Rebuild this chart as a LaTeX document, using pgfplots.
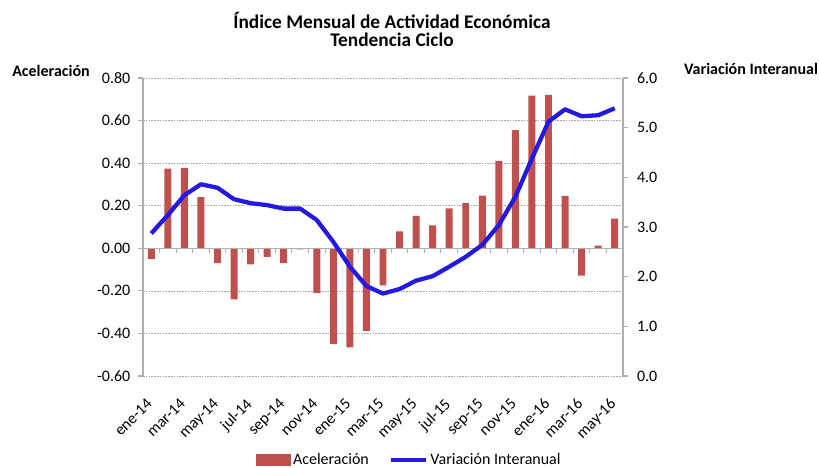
\documentclass[border=0pt]{standalone}
\usepackage{pgfplots}
\pgfplotsset{compat=1.18}
\usepackage{pgfplotstable}
\usepackage{fontspec}
\setmainfont{Carlito}
\definecolor{barred}{RGB}{192,80,77}
\definecolor{lineblue}{RGB}{35,25,225}
\definecolor{axgray}{RGB}{175,175,175}

\pgfplotstableread{
idx acel var
0  -0.050 2.87
1   0.374 3.24
2   0.378 3.64
3   0.240 3.86
4  -0.070 3.79
5  -0.240 3.56
6  -0.075 3.48
7  -0.040 3.44
8  -0.070 3.37
9  -0.005 3.37
10 -0.210 3.14
11 -0.450 2.70
12 -0.466 2.20
13 -0.388 1.81
14 -0.174 1.66
15  0.080 1.75
16  0.152 1.92
17  0.108 2.01
18  0.188 2.20
19  0.212 2.40
20  0.248 2.64
21  0.411 3.04
22  0.555 3.61
23  0.717 4.38
24  0.721 5.12
25  0.246 5.37
26 -0.129 5.23
27  0.012 5.25
28  0.139 5.39
}\datatable

\pgfplotsset{
  common/.style={
    scale only axis, width=360pt, height=223.5pt,
    xmin=-0.5, xmax=28.5,
    /pgf/number format/assume math mode=true,
    tick label style={font=\fontsize{12}{14}\selectfont},
    tick align=outside,
    major tick length=4pt,
    every tick/.style={axgray, line width=0.8pt},
    y axis line style={axgray, line width=1.1pt},
  }
}

\begin{document}
\begin{tikzpicture}
\begin{axis}[common, name=ax,
  ymin=-0.6, ymax=0.8,
  ytick={-0.6,-0.4,-0.2,0,0.2,0.4,0.6,0.8},
  yticklabel style={xshift=-2pt, /pgf/number format/.cd, fixed, fixed zerofill, precision=2},
  axis y line*=left, axis x line*=bottom,
  x axis line style={draw=none},
  ymajorgrids,
  grid style={gray!70, line width=0.5pt, dash pattern=on 1.2pt off 0.9pt},
  xtick={0,2,...,28},
  xticklabels={ene-14,mar-14,may-14,jul-14,sep-14,nov-14,ene-15,mar-15,may-15,jul-15,sep-15,nov-15,ene-16,mar-16,may-16},
  xticklabel style={rotate=45, anchor=north east, xshift=-8pt, yshift=-2pt},
  x tick style={draw=none},
]
\addplot[ybar, bar width=0.42, fill=barred, draw=none] table[x=idx,y=acel]{\datatable};
\draw[axgray, line width=0.8pt] (axis cs:-0.5,0) -- (axis cs:28.5,0);
\pgfplotsinvokeforeach{0.5,1.5,2.5,3.5,4.5,5.5,6.5,7.5,8.5,9.5,10.5,11.5,12.5,13.5,14.5,15.5,16.5,17.5,18.5,19.5,20.5,21.5,22.5,23.5,24.5,25.5,26.5,27.5}{\draw[axgray, line width=0.8pt] (axis cs:#1,0) -- ([yshift=-3.8pt]axis cs:#1,0);}
\end{axis}
\begin{axis}[common,
  ymin=0, ymax=6,
  ytick={0,1,2,3,4,5,6},
  yticklabel style={xshift=3pt, /pgf/number format/.cd, fixed, fixed zerofill, precision=1},
  axis y line*=right, axis x line=none,
  legend columns=2,
  legend style={draw=none, at={(0.556,-0.282)}, anchor=center,
    font=\fontsize{12}{14}\selectfont, inner sep=0pt,
    /tikz/every even column/.append style={column sep=13pt}},
  legend image code/.code={\draw[#1] (0pt,0pt) -- (26pt,0pt);},
]
\addlegendimage{legend image code/.code={\fill[barred] (0pt,-4pt) rectangle (25pt,4pt);}}
\addlegendentry{Aceleración}
\addplot[lineblue, line width=3.2pt, line join=round] table[x=idx,y=var]{\datatable};
\addlegendentry{Variación Interanual}
\end{axis}
\node[font=\bfseries\fontsize{14.5}{13}\selectfont, align=center] at ([xshift=186.75pt, yshift=260pt]ax.south west) {Índice Mensual de Actividad Económica\\Tendencia Ciclo};
\node[font=\bfseries\fontsize{12}{14}\selectfont] at ([xshift=-69pt, yshift=229pt]ax.south west) {Aceleración};
\node[font=\bfseries\fontsize{12}{14}\selectfont] at ([xshift=456pt, yshift=230pt]ax.south west) {Variación Interanual};
\pgfresetboundingbox
\path ([xshift=-107.25pt,yshift=-69pt]ax.south west) rectangle ([xshift=507pt,yshift=282pt]ax.south west);
\end{tikzpicture}
\end{document}
